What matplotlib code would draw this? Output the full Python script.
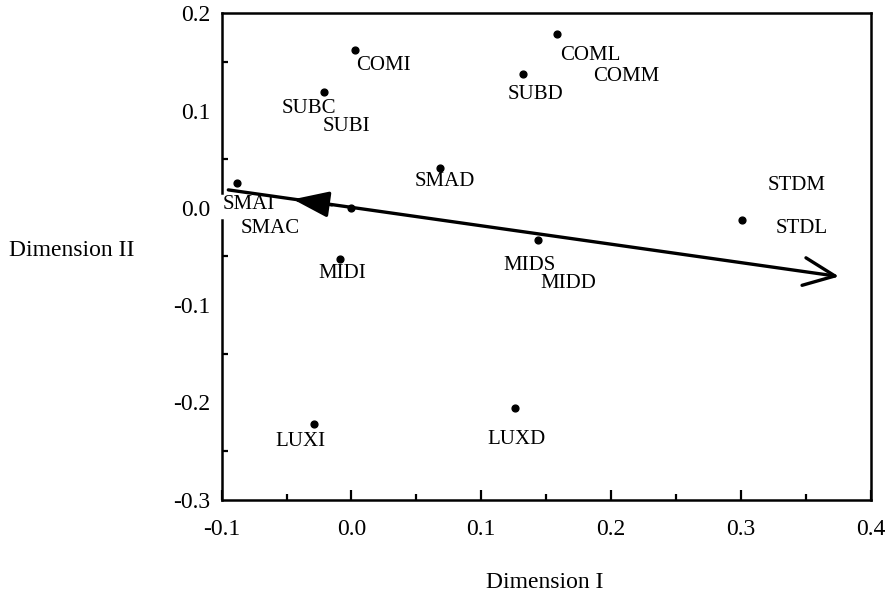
import matplotlib
matplotlib.use("Agg")
import matplotlib.pyplot as plt
from matplotlib.ticker import MultipleLocator, FormatStrFormatter

plt.rcParams['font.family'] = ['Liberation Serif', 'DejaVu Serif']
plt.rcParams['axes.unicode_minus'] = False

# points (dots)
dot_x = [0.003, 0.158, 0.132, -0.021, 0.068, -0.088, 0.0, 0.301, 0.144, -0.009, 0.126, -0.029]
dot_y = [0.162, 0.179, 0.138, 0.119, 0.041, 0.025, 0.0, -0.013, -0.033, -0.053, -0.206, -0.222]

# labels
label_names = ["COMI", "SUBC", "SUBI", "SMAD", "SMAI", "SMAC", "MIDI", "MIDS", "MIDD",
               "STDM", "STDL", "COML", "COMM", "SUBD", "LUXI", "LUXD"]
label_x = [0.0245, -0.0327, -0.0037, 0.072, -0.079, -0.0628, -0.0075, 0.1374, 0.1667,
           0.343, 0.3468, 0.1837, 0.212, 0.1414, -0.0397, 0.1273]
label_y = [0.1461, 0.1023, 0.0834, 0.0275, 0.0035, -0.0211, -0.0674, -0.0592, -0.0777,
           0.0234, -0.0208, 0.1571, 0.1348, 0.117, -0.2406, -0.238]

# direction arrow through the origin
arrow_start = (-0.0949, 0.0184)
arrow_end = (0.3756, -0.0707)
back_head = (-0.0451, 0.0087)

fig = plt.figure(figsize=(8.9, 5.99), dpi=100)
ax = fig.add_axes([0.2491, 0.1661, 0.9783 - 0.2491, 0.9778 - 0.1661])

ax.scatter(dot_x, dot_y, s=24, color="black", zorder=3)

for name, x, y in zip(label_names, label_x, label_y):
    ax.text(x, y, name, fontsize=15, ha="center", va="center")

# main line with open head on the right
ax.annotate("", xy=arrow_end, xytext=arrow_start,
            arrowprops=dict(arrowstyle="->,head_length=0.9,head_width=0.4",
                            lw=2.4, color="black", mutation_scale=25,
                            shrinkA=0, shrinkB=0))
# filled head pointing left, partway along the line
sx = back_head[0] + 0.03
sy = back_head[1] + 0.03 * (arrow_end[1] - arrow_start[1]) / (arrow_end[0] - arrow_start[0])
ax.annotate("", xy=back_head, xytext=(sx, sy),
            arrowprops=dict(arrowstyle="-|>,head_length=1.1,head_width=0.4",
                            lw=2.4, color="black", mutation_scale=20,
                            shrinkA=0, shrinkB=0))

ax.set_xlim(-0.1, 0.4)
ax.set_ylim(-0.3, 0.2)
ax.xaxis.set_major_locator(MultipleLocator(0.1))
ax.xaxis.set_minor_locator(MultipleLocator(0.05))
ax.yaxis.set_major_locator(MultipleLocator(0.1))
ax.yaxis.set_minor_locator(MultipleLocator(0.05))
ax.xaxis.set_major_formatter(FormatStrFormatter("%.1f"))
ax.yaxis.set_major_formatter(FormatStrFormatter("%.1f"))
ax.tick_params(which="both", direction="in", top=False, right=False, width=1.6, labelsize=17)
ax.tick_params(which="major", length=7)
ax.tick_params(which="minor", length=4)
ax.tick_params(axis="x", pad=14)
ax.tick_params(axis="y", pad=8)

for s in ["top", "right", "bottom"]:
    ax.spines[s].set_linewidth(1.8)
# left spine is broken around 0.0
ax.spines["left"].set_visible(False)
ax.axvline(-0.1, ymin=0.0, ymax=0.574, color="black", lw=1.8, clip_on=False)
ax.axvline(-0.1, ymin=0.63, ymax=1.0, color="black", lw=1.8, clip_on=False)
for t in ax.yaxis.get_major_ticks():
    if abs(t.get_loc()) < 1e-9:
        t.tick1line.set_visible(False)

fig.text(72 / 890, 1 - 251 / 599, "Dimension II", fontsize=17, ha="center", va="center")
fig.text(545 / 890, 1 - 582 / 599, "Dimension I", fontsize=17, ha="center", va="center")

fig.savefig("out.png", dpi=100)
